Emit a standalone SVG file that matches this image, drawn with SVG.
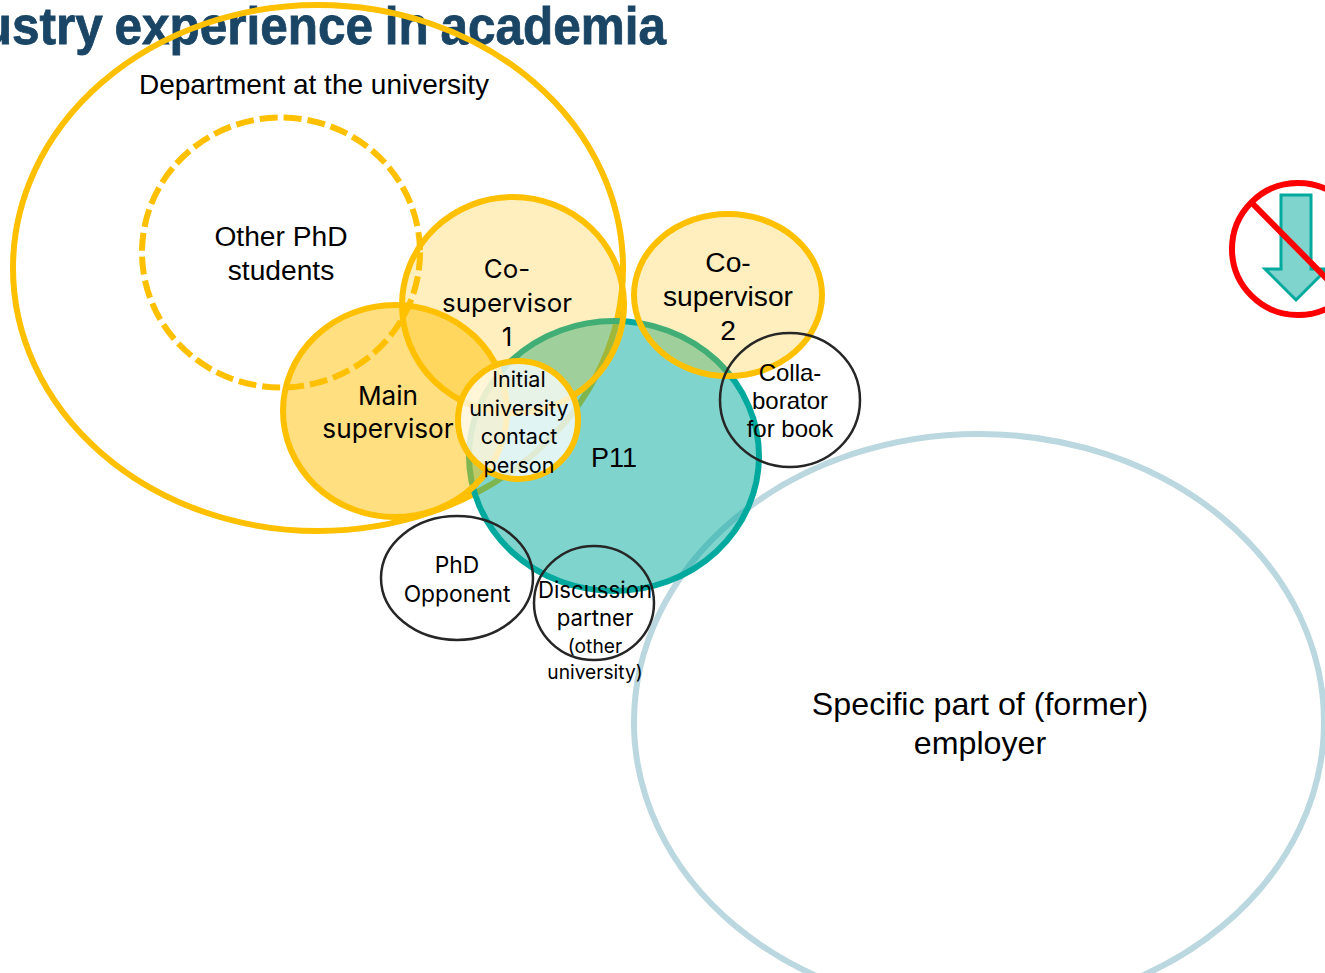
<svg xmlns="http://www.w3.org/2000/svg" width="1325" height="973" viewBox="0 0 1325 973">
<style>
.a{font-family:"Liberation Sans",Arial,sans-serif;fill:#000;text-anchor:middle}
.b{font-family:Inter,"Noto Sans",sans-serif;fill:#000;text-anchor:middle}
.y{stroke:#FFC000;stroke-width:6}
.k{fill:none;stroke:#262626;stroke-width:2.5}
</style>
<rect width="1325" height="973" fill="#fff"/>
<text transform="translate(666 44) scale(.952 1)" word-spacing="-2.2" text-anchor="end" font-family="'Liberation Sans',Arial,sans-serif" font-weight="700" font-size="52" fill="#1A4565" stroke="#1A4565" stroke-width=".8">ustry experience in academia</text>
<g id="employer"><ellipse cx="979" cy="722" rx="345" ry="288" fill="none" stroke="#BBD7E0" stroke-width="6"/>
<text class="a" font-size="32.2" x="980" y="715">Specific part of (former)</text><text class="a" font-size="32.2" x="980" y="754">employer</text></g>
<g id="department"><ellipse cx="318" cy="268" rx="305" ry="263" fill="none" class="y"/>
<text class="a" font-size="28" x="314" y="94">Department at the university</text></g>
<g id="phd-students"><ellipse cx="281" cy="252.5" rx="139" ry="135" fill="none" class="y" stroke-dasharray="18 6"/>
<text class="a" font-size="28.2" x="281" y="246">Other PhD</text><text class="a" font-size="28.2" x="281" y="280">students</text></g>
<g id="p11"><ellipse cx="614" cy="456" rx="145" ry="135" fill="#00A99D" fill-opacity=".5" stroke="#00A99D" stroke-width="6"/>
<text class="a" font-size="27" x="614" y="467">P11</text></g>
<g id="main-supervisor"><ellipse cx="395" cy="411" rx="112" ry="106" fill="#FFC000" fill-opacity=".5" class="y"/>
<text class="b" font-size="26.2" x="388" y="405">Main</text><text class="b" font-size="26.2" x="388" y="438">supervisor</text></g>
<g id="co-supervisor-1"><ellipse cx="513" cy="305" rx="111" ry="108" fill="#FFC000" fill-opacity=".25" class="y"/>
<text class="b" font-size="25.9" x="507" y="278">Co-</text><text class="b" font-size="25.9" x="507" y="312">supervisor</text><text class="b" font-size="25.9" x="507" y="346">1</text></g>
<g id="co-supervisor-2"><ellipse cx="728" cy="295" rx="94" ry="81" fill="#FFC000" fill-opacity=".25" class="y"/>
<text class="a" font-size="28.2" x="728" y="272">Co-</text><text class="a" font-size="28.2" x="728" y="306">supervisor</text><text class="a" font-size="28.2" x="728" y="340">2</text></g>
<g id="initial-contact"><ellipse cx="518" cy="420" rx="60" ry="59" fill="#fff" fill-opacity=".75" class="y"/>
<g class="b" font-size="21.6"><text x="519" y="387">Initial</text><text x="519" y="416">university</text><text x="519" y="444">contact</text><text x="519" y="473">person</text></g></g>
<g id="collaborator"><ellipse cx="790" cy="400" rx="70" ry="67" class="k"/>
<g class="a" font-size="24"><text x="790" y="381">Colla-</text><text x="790" y="409">borator</text><text x="790" y="437">for book</text></g></g>
<g id="phd-opponent"><ellipse cx="457" cy="578" rx="76" ry="62" class="k"/>
<g class="b" font-size="22.8"><text x="457" y="573">PhD</text><text x="457" y="602">Opponent</text></g></g>
<g id="discussion-partner"><ellipse cx="594" cy="603" rx="60" ry="57" class="k"/>
<g class="b"><text x="595" y="598" font-size="22.2">Discussion</text><text x="595" y="626" font-size="22.2">partner</text><text x="595" y="653" font-size="19.2">(other</text><text x="595" y="679" font-size="19.2">university)</text></g></g>
<g id="no-down-arrow"><polygon points="1281,195 1311,195 1311,269 1327,269 1296,300 1265,269 1281,269" fill="#7FD4CE" stroke="#00A99D" stroke-width="3"/>
<circle cx="1298" cy="249" r="66" fill="none" stroke="#FF0000" stroke-width="6"/><line x1="1251" y1="202" x2="1330" y2="282" stroke="#FF0000" stroke-width="6"/></g>
<g id="connectors"></g>
</svg>
